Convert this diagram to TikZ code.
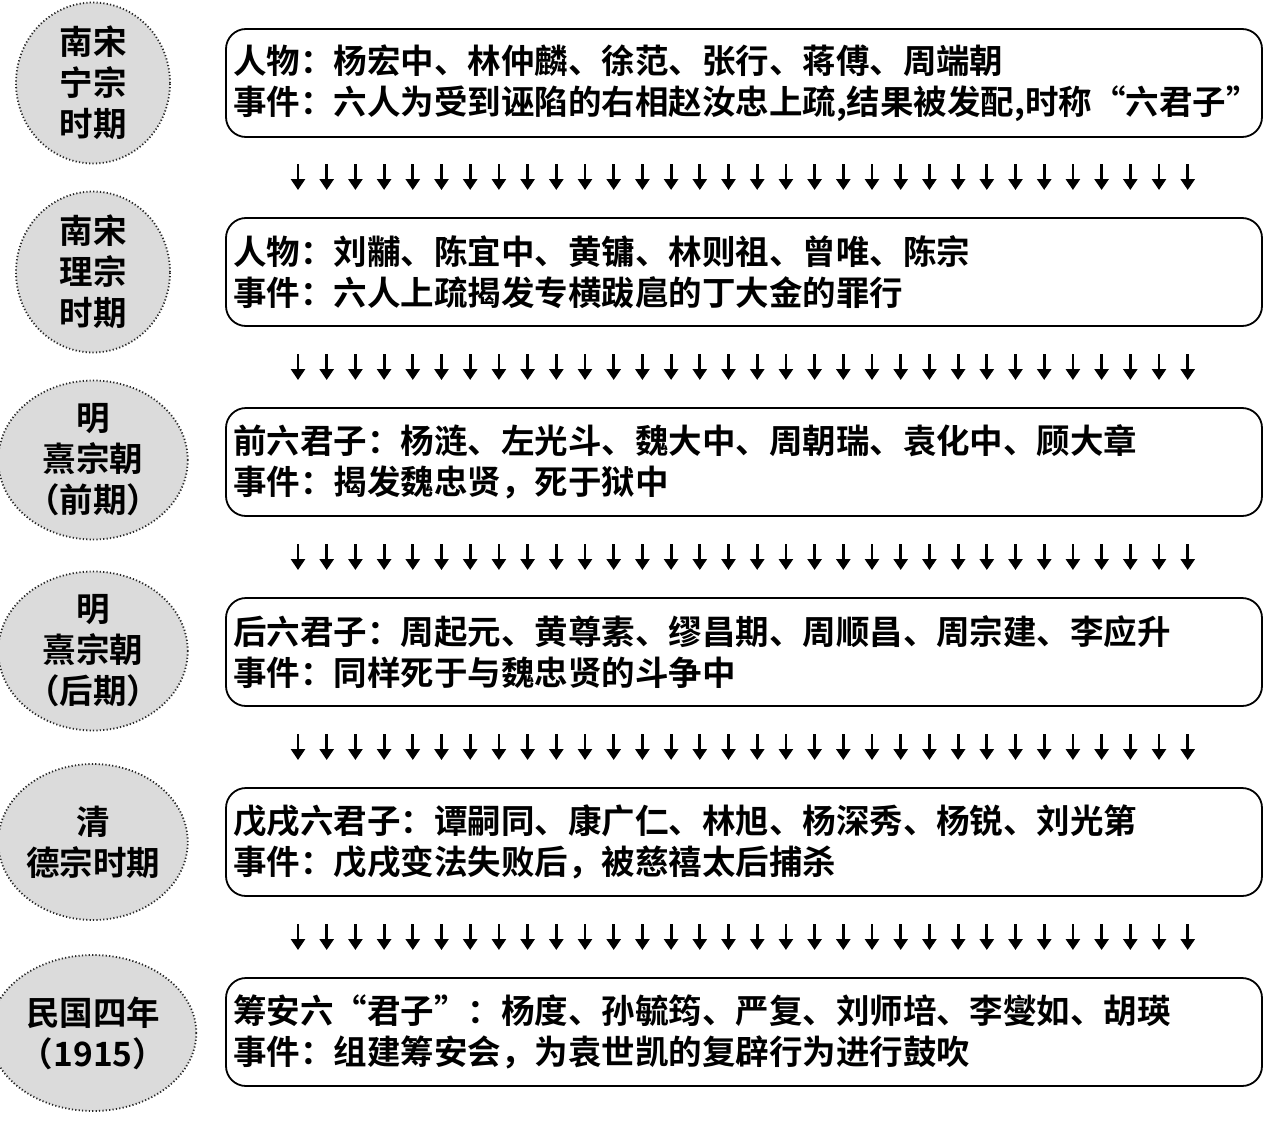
\documentclass[tikz,border=0pt]{standalone}
\usepackage{fontspec}
\usepackage{tikz}
\usetikzlibrary{shapes.geometric,arrows.meta}
\newfontfamily\cjk{Noto Sans CJK SC Bold}

\begin{document}
\begin{tikzpicture}[x=0.5pt,y=-0.5pt,
	era/.style={shape=ellipse,draw=black!85,fill=black!14,line width=0.9pt,
		dash pattern=on 0.6pt off 1.1pt,minimum width=77pt,minimum height=78pt,
		inner sep=0pt,align=center,font=\cjk\fontsize{16.75pt}{20.5pt}\selectfont},
	event/.style={shape=rectangle,rounded corners=10pt,draw=black,line width=0.9pt,
		minimum width=518pt,minimum height=54pt,inner xsep=3.5pt,inner ysep=0pt,
		text width=511pt,align=left,font=\cjk\fontsize{16.75pt}{20.5pt}\selectfont},
	downarr/.style={line width=1.4pt,-{Triangle[width=7pt,length=5.5pt]}}]
	\useasboundingbox (0,0) rectangle (1280,1124);

	\node[era] (e1) at (93, 83)     {南宋\\宁宗\\时期};
	\node[era] (e2) at (93, 272)    {南宋\\理宗\\时期};
	\node[era] (e3) at (93, 460)    {明\\熹宗朝\\（前期）};
	\node[era] (e4) at (93, 651)    {明\\熹宗朝\\（后期）};
	\node[era] (e5) at (93, 842)    {清\\德宗时期};
	\node[era] (e6) at (93, 1033)   {民国四年\\（1915）};

	\node[event] (b1) at (744, 83)    {人物：杨宏中、林仲麟、徐范、张行、蒋傅、周端朝\\事件：六人为受到诬陷的右相赵汝忠上疏,结果被发配,时称“六君子”};
	\node[event] (b2) at (744, 272)   {人物：刘黼、陈宜中、黄镛、林则祖、曾唯、陈宗\\事件：六人上疏揭发专横跋扈的丁大金的罪行};
	\node[event] (b3) at (744, 462)   {前六君子：杨涟、左光斗、魏大中、周朝瑞、袁化中、顾大章\\事件：揭发魏忠贤，死于狱中};
	\node[event] (b4) at (744, 652)   {后六君子：周起元、黄尊素、缪昌期、周顺昌、周宗建、李应升\\事件：同样死于与魏忠贤的斗争中};
	\node[event] (b5) at (744, 842)   {戊戌六君子：谭嗣同、康广仁、林旭、杨深秀、杨锐、刘光第\\事件：戊戌变法失败后，被慈禧太后捕杀};
	\node[event] (b6) at (744, 1032)  {筹安六“君子”：杨度、孙毓筠、严复、刘师培、李燮如、胡瑛\\事件：组建筹安会，为袁世凯的复辟行为进行鼓吹};

	% rows of arrows between the boxes
	\foreach \y in {164, 354, 544, 734, 924}
		\foreach \i in {0,...,31}
			\draw[downarr] ({298+28.7*\i}, \y) -- ++(0, 26);

\end{tikzpicture}
\end{document}
